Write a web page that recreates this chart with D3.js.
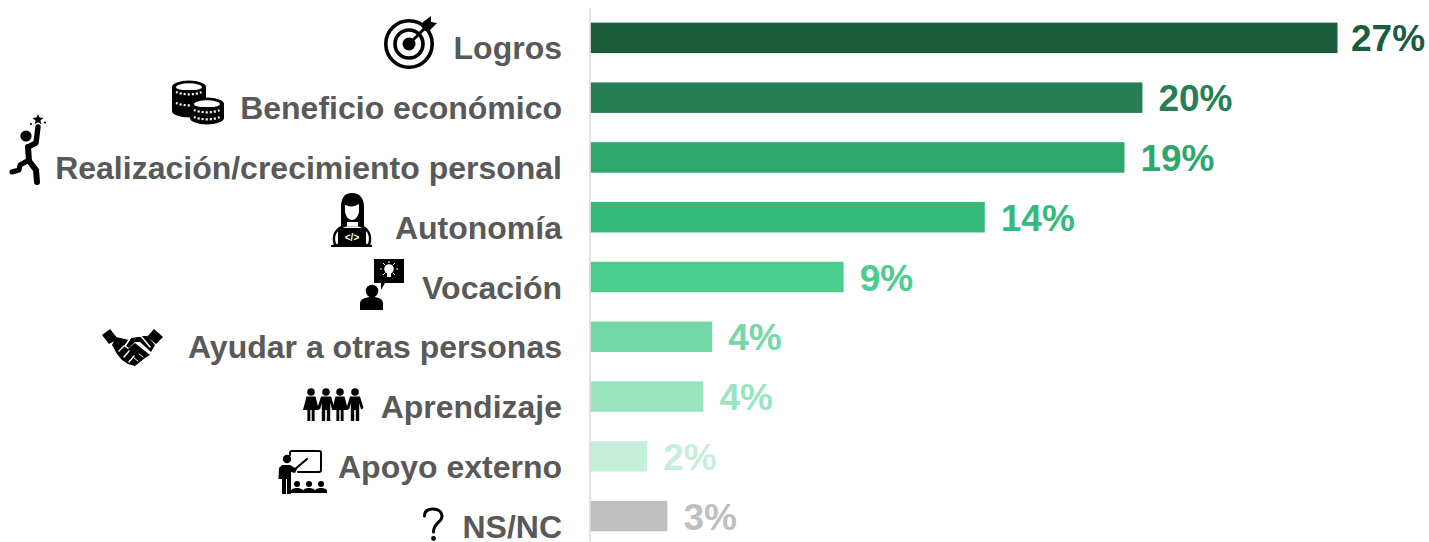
<!DOCTYPE html>
<html><head><meta charset="utf-8">
<script src="https://cdn.jsdelivr.net/npm/d3@7"></script>
<style>html,body{margin:0;padding:0;background:#fff;overflow:hidden}svg{display:block}text{font-family:"Liberation Sans",Arial,sans-serif;font-weight:bold}</style>
</head><body><svg id="c" width="1429" height="542"></svg>
<script>
const categories=["Logros","Beneficio económico","Realización/crecimiento personal","Autonomía","Vocación","Ayudar a otras personas","Aprendizaje","Apoyo externo","NS/NC"];
const values=[27,19.95,19.3,14.25,9.15,4.4,4.08,2.05,2.78];
const valueLabels=["27%","20%","19%","14%","9%","4%","4%","2%","3%"];
const barColors=["#1a5c3c","#267f54","#2ea76d","#35ba7b","#4bcd8e","#74d9a9","#9be4c1","#c6efdb","#bfbfbf"];
const svg=d3.select("#c");
const x=d3.scaleLinear().domain([0,27]).range([590.5,1337.5]);
const y=d3.scaleBand().domain(categories).range([8,546]).paddingInner(0.49).paddingOuter(0.245);
const g=svg.append("g");
g.selectAll("rect").data(categories).join("rect")
 .attr("x",x(0)).attr("y",d=>y(d)).attr("height",y.bandwidth())
 .attr("width",(d,i)=>x(values[i])-x(0)).attr("fill",(d,i)=>barColors[i]);
svg.append("line").attr("x1",590).attr("x2",590).attr("y1",8).attr("y2",542).attr("stroke","#d9d9d9").attr("stroke-width",1.5);
g.selectAll("text.v").data(categories).join("text").attr("class","v")
 .attr("x",(d,i)=>Math.min(x(values[i])+16,1351)).attr("y",d=>y(d)+y.bandwidth()/2+13.5)
 .attr("font-size",37).attr("fill",(d,i)=>barColors[i]).text((d,i)=>valueLabels[i]);
g.selectAll("text.c").data(categories).join("text").attr("class","c")
 .attr("x",562).attr("y",d=>y(d)+y.bandwidth()/2+21.5)
 .attr("text-anchor","end").attr("font-size",32).attr("fill","#595959").text(d=>d);

// pictograms, drawn in page pixels
const ic=svg.append("g").attr("fill","#000");
function P(d,o){const p=ic.append("path").attr("d",d);if(o)for(const k in o)p.attr(k,o[k]);return p;}
function C(cx,cy,r,f){return ic.append("circle").attr("cx",cx).attr("cy",cy).attr("r",r).attr("fill",f||"#000");}
const S=(w,c)=>({fill:"none",stroke:c||"#000","stroke-width":w,"stroke-linecap":"round","stroke-linejoin":"round"});
// target
[[409,44,23.2,3.6],[409,44,14,3.6]].forEach(c=>ic.append("circle").attr("cx",c[0]).attr("cy",c[1]).attr("r",c[2]).attr("fill","none").attr("stroke","#000").attr("stroke-width",c[3]));
C(409,44,6.5);
P("M409 44L426 27",S(3));
P("M421 26L423 22L431 16L431 22L437 23L430 30L425 31Z");
// coins
function coin(cx,cy,rx,ry,h,bands){
 P(`M${cx-rx} ${cy}A${rx} ${ry} 0 0 1 ${cx+rx} ${cy}V${cy+h}A${rx} ${ry} 0 0 1 ${cx-rx} ${cy+h}Z`);
 ic.append("ellipse").attr("cx",cx).attr("cy",cy).attr("rx",rx-4).attr("ry",ry-2.8).attr("fill","#fff");
 P(`M${cx-rx+3} ${cy+.8}A${rx-3} ${ry-1.6} 0 0 0 ${cx+rx-3} ${cy+.8}V${cy+3}H${cx-rx+3}Z`);
 bands.forEach(b=>P(`M${cx-rx+4} ${cy+b}A${rx} ${ry} 0 0 0 ${cx+rx-4} ${cy+b}`,{fill:"none",stroke:"#fff","stroke-width":2.2,"stroke-dasharray":"2 2"}));
}
coin(189,87,17,6.5,24,[5,16]);
coin(207,104,17,6.5,14,[6,13]);
// runner
C(26,136,5.6);
P("M38 127L36 143L28 147",S(5.4));
P("M28 147L29 161L36 170L37 182",S(6));
P("M29 160L20 165L19 170L12 172",S(5));
P("M38 114l1.5 3.6 3.9 .3 -3 2.5 1 3.8 -3.4 -2 -3.4 2 1 -3.8 -3 -2.5 3.9 -.3z");
C(31,124,1.1);C(45,122.5,1.1);
// programmer
P("M352 193C344 193 341 199 341 207L341 226L364 226L364 207C364 199 360 193 352 193Z");
P("M345 205C350 207 354 207 359 204L359 212C358 217 355 220 352 220C349 220 346 217 345 212Z",{fill:"#fff"});
P("M335 245C332 236 335 228 347 225L358 225C369 228 372 236 369 245Z",{fill:"#fff",stroke:"#000","stroke-width":2.4});
P("M347 222H358V226H347Z",{fill:"#fff"});
P("M338 245V228H366V245H372V247H331V245Z");
ic.append("text").attr("x",352).attr("y",241).attr("text-anchor","middle").attr("font-size",10).attr("fill","#fff").text("</>");
// speech + person
P("M374 259H404V283H385L381 290V283H374Z");
C(389,269,4.8,"#fff");
ic.append("rect").attr("x",387).attr("y",273).attr("width",4).attr("height",4).attr("fill","#fff");
P("M380 269h2M396 269h2M389 261v2M383 263l2 2M395 263l-2 2M383 275l2-2M395 275l-2-2",{stroke:"#fff","stroke-width":1,fill:"none"});
C(372,291,6.3);
P("M360 310V304C360 299 365 297 372 297C379 297 383 299 383 304V310Z");
// handshake
P("M102 335L110 329L118 339L109 344Z");P("M163 337L154 329L147 337L156 344Z");
P("M116 337L129 340L124 346L128 349L135 343L150 355L145 358L140 362L135 366L128 364L122 360L117 354L112 345Z");
P("M131 338L141 336L147 336L155 345L151 352L140 342L135 342L129 348L126 346Z");
P("M119 351l5 -5M124 357l5 -6M129 362l5 -6",S(1.4,"#fff"));
P("M125 346L131 337L141 336L150 347",S(1.4,"#fff"));
P("M134 358l4 3M139 354l4 3",S(1,"#fff"));
// people row
[[311,1],[326,0],[340,1],[355,0]].forEach(([cx,woman])=>{
 C(cx,392,3.8);
 if(woman)P(`M${cx-4.5} 396.5H${cx+4.5}L${cx+8} 410H${cx+3.6}V421H${cx+.7}V410H${cx-.7}V421H${cx-3.6}V410H${cx-8}Z`);
 else P(`M${cx-5} 396.5H${cx+5}L${cx+8.5} 408L${cx+6} 409.5L${cx+4.2} 403V421H${cx+.8}V410H${cx-.8}V421H${cx-4.2}V403L${cx-6} 409.5L${cx-8.5} 408Z`);
});
// teacher
P("M290 455V453Q290 451 292 451H319Q321 451 321 453V470Q321 472 319 472H298",S(2));
P("M294 470L307 459",S(2.2));
C(287,459,4.2);
P("M282 465H290L297 469L295 473L291 472V494H287V479H286V494H282V479H278.5L279 468Z");
[297,309,321].forEach(cx=>{C(cx,484,3);P(`M${cx-6} 493V491C${cx-6} 489 ${cx-3} 488 ${cx} 488C${cx+3} 488 ${cx+6} 489 ${cx+6} 491V493Z`);});
// question mark
P("M424.5 516C424.5 511 428 509 433 509C438.5 509 442 512 442 516.5C442 522 433.5 523 433.5 532",S(3));
C(433.5,538.5,2.4);
</script></body></html>
